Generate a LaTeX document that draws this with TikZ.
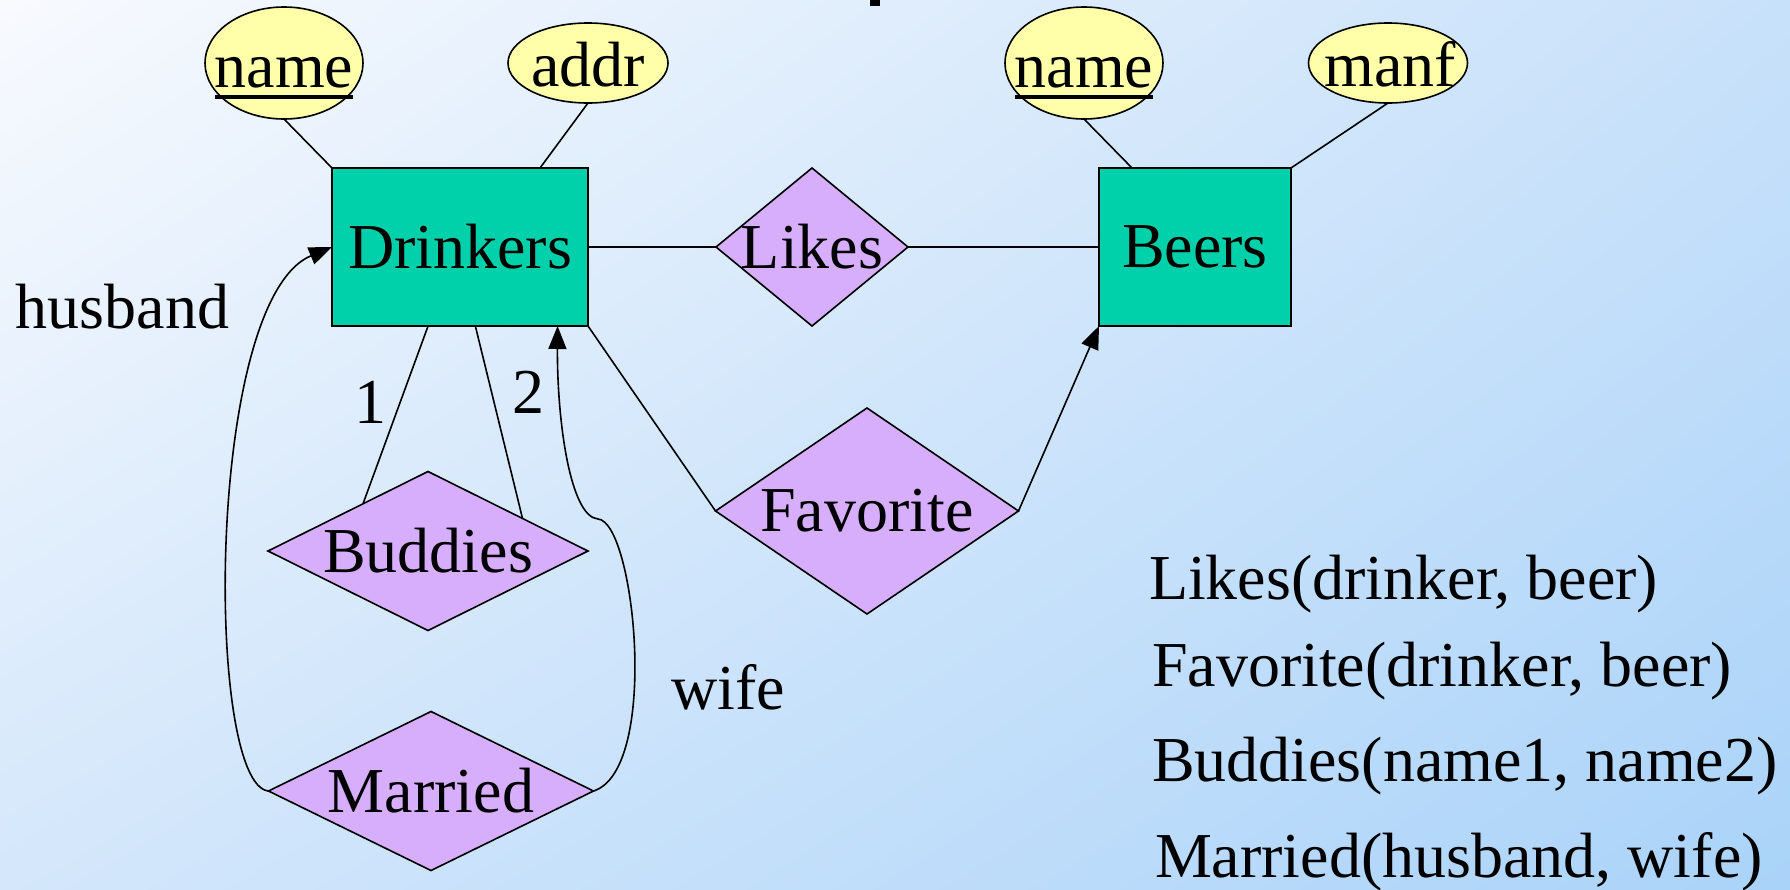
\documentclass[tikz,border=0pt]{standalone}
\usepackage{fontspec}
\setmainfont{Liberation Serif}
\usetikzlibrary{shapes.geometric,arrows.meta,calc,shadings}
\definecolor{entfill}{RGB}{0,209,170}
\definecolor{relfill}{RGB}{214,174,252}
\definecolor{attfill}{RGB}{255,255,170}
\definecolor{bgTL}{RGB}{248,250,254}
\definecolor{bgTR}{RGB}{200,225,250}
\definecolor{bgBL}{RGB}{212,231,251}
\definecolor{bgBR}{RGB}{170,211,249}
\begin{document}
\begin{tikzpicture}[x=1pt,y=-1pt,line width=1.6pt,
  txt/.style={font=\fontsize{64}{70}\selectfont, inner sep=0pt, outer sep=0pt},
  entity/.style={draw, fill=entfill, rectangle, inner sep=0pt, minimum height=158pt, txt, outer sep=0pt},
  rel/.style={draw, fill=relfill, diamond, inner sep=0pt, outer sep=0pt},
  attr/.style={draw, fill=attfill, ellipse, inner sep=0pt, outer sep=0pt},
  conn/.style={line width=1.6pt},
  arr/.style={conn, -{Triangle[length=23pt,width=18pt]}}]
\useasboundingbox (0,0) rectangle (1790,889);
\shade[upper left=bgTL, upper right=bgTR, lower left=bgBL, lower right=bgBR] (0,0) rectangle (1790,889);
\fill[black] (870,0) rectangle (880,6);

% entities
\node[entity, minimum width=256pt] (drinkers) at (460,247) {Drinkers};
\node[entity, minimum width=192pt] (beers) at (1195,247) {Beers};

% attributes
\node[attr, minimum width=158pt, minimum height=112pt] (dname) at (284,63) {};
\node[attr, minimum width=160pt, minimum height=80pt] (daddr) at (588,63) {};
\node[attr, minimum width=158pt, minimum height=112pt] (bname) at (1084,63) {};
\node[attr, minimum width=159pt, minimum height=80pt] (bmanf) at (1388,63) {};
\node[txt, anchor=base] (dnamet) at (284,87) {name};
\node[txt, anchor=base] (daddrt) at (588,86) {addr};
\node[txt, anchor=base] (bnamet) at (1084,87) {name};
\node[txt, anchor=base] (bmanft) at (1390,86) {manf};
\draw[line width=4pt] ($(dnamet.base)+(-69,10)$) -- ($(dnamet.base)+(69,10)$);
\draw[line width=4pt] ($(bnamet.base)+(-69,10)$) -- ($(bnamet.base)+(69,10)$);

% relationships
\node[rel, minimum width=192pt, minimum height=158pt, label={[txt]center:Likes}] (likes) at (812,247) {};
\node[rel, minimum width=303pt, minimum height=206pt, label={[txt]center:Favorite}] (fav) at (867,511) {};
\node[rel, minimum width=320pt, minimum height=159pt, label={[txt]center:Buddies}] (bud) at (428,551) {};
\node[rel, minimum width=325pt, minimum height=159pt, label={[txt]center:Married}] (mar) at (431,791) {};

% attribute connectors
\draw[conn] (dname.south) -- (drinkers.north west);
\draw[conn] (daddr.south) -- ($(drinkers.north west)+(208,0)$);
\draw[conn] (bname.south) -- ($(beers.north west)+(33,0)$);
\draw[conn] (bmanf.south) -- (beers.north east);

% relationship connectors
\draw[conn] (drinkers.east) -- (likes.west);
\draw[conn] (likes.east) -- (beers.west);
\draw[conn] (drinkers.south east) -- (fav.west);
\draw[arr] (fav.east) -- (beers.south west);
\draw[conn] (drinkers.-112) -- (bud.144);
\draw[conn] (drinkers.-79) -- (bud.19);

% married role arrows
\draw[arr] (mar.west) .. controls (205,785) and (205,300) .. (drinkers.west);
\draw[arr] (mar.east) .. controls (660,770) and (635,522) .. (598,519)
   .. controls (570,517) and (557,420) .. (drinkers.-39);

% labels
\node[txt, anchor=base west] (l1) at (354,423) {1};
\node[txt, anchor=base west] (l2) at (512,413) {2};
\node[txt, anchor=base west] (hus) at (16,328) {husband};
\node[txt, anchor=base west] (wife) at (671,709) {wife};

% schema
\node[txt, anchor=base west] (s1) at (1149,599) {Likes(drinker, beer)};
\node[txt, anchor=base west] (s2) at (1152,686) {Favorite(drinker, beer)};
\node[txt, anchor=base west] (s3) at (1152,781) {Buddies(name1, name2)};
\node[txt, anchor=base west] (s4) at (1155,877) {Married(husband, wife)};
\end{tikzpicture}
\end{document}
